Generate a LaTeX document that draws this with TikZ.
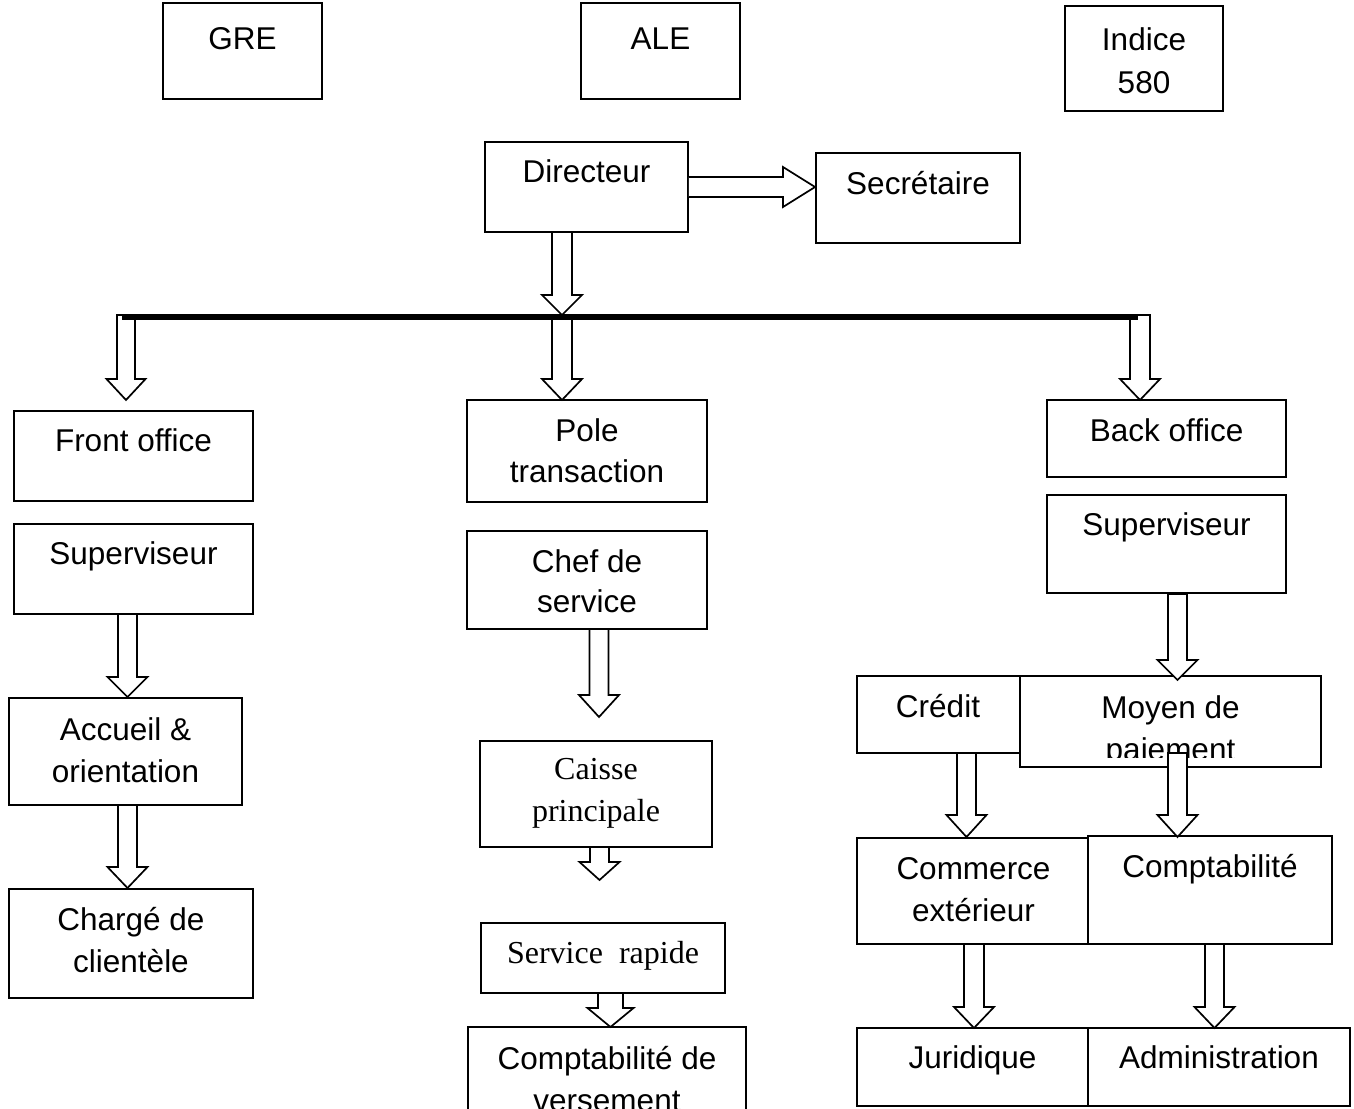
\documentclass[tikz,border=0pt]{standalone}
\usepackage{fontspec}
\setmainfont{Liberation Sans}
\newfontfamily\serifA{Liberation Serif}
\tikzset{
  bx/.style={draw, line width=1.9pt, fill=white, inner sep=0pt},
  lbl/.style={anchor=base, inner sep=0pt},
  slbl/.style={anchor=base, inner sep=0pt, font=\serifA\fontsize{32}{42}\selectfont},
  arr/.style={draw, line width=1.7pt, fill=white, line join=miter},
  bus/.style={line width=6pt}
}
\newcommand\mybox[5]{\node[bx, minimum width={#4-#2}, minimum height={#5-#3}] (#1) at ({(#2+#4)/2},{(#3+#5)/2}) {};}
% cx, ytop, yhead, ytip, shaft half, head half
\newcommand\DArr[6]{\draw[arr] ({#1-#5},#2) -- ({#1-#5},#3) -- ({#1-#6},#3) -- (#1,#4) -- ({#1+#6},#3) -- ({#1+#5},#3) -- ({#1+#5},#2) -- cycle;}
\begin{document}
\begin{tikzpicture}[x=1pt,y=-1pt,font=\fontsize{31.5}{42}\selectfont]
\useasboundingbox (0,0) rectangle (1354,1108);
\clip (0,0) rectangle (1354,1108);
\fill[white] (0,0) rectangle (1354,1108);

% top row
\mybox{gre}{163}{3}{322}{99}
\mybox{ale}{581}{3}{740}{99}
\mybox{ind}{1065}{6}{1223}{111}
\node[lbl] (tgre) at (242.5,50) {GRE};
\node[lbl] (tale) at (660.5,50) {ALE};
\node[lbl] (tind1) at (1144,51) {Indice};
\node[lbl] (tind2) at (1144,93) {580};

% director level
\mybox{dir}{485}{142}{688}{232}
\mybox{sec}{816}{153}{1020}{243}
\node[lbl] (tdir) at (586.5,182) {Directeur};
\node[lbl] (tsec) at (918,194) {Secrétaire};

% left column
\mybox{front}{14}{411}{253}{501}
\mybox{supl}{14}{524}{253}{614}
\mybox{acc}{9}{698}{242}{805}
\mybox{charge}{9}{889}{253}{998}
\node[lbl] (tfront) at (133.5,451) {Front office};
\node[lbl] (tsupl) at (133.5,564) {Superviseur};
\node[lbl] (tacc1) at (125.5,740) {Accueil \&};
\node[lbl] (tacc2) at (125.5,782) {orientation};
\node[lbl] (tch1) at (131,930) {Chargé de};
\node[lbl] (tch2) at (131,972) {clientèle};

% middle column
\mybox{pole}{467}{400}{707}{502}
\mybox{chef}{467}{531}{707}{629}
\mybox{caisse}{480}{741}{712}{847}
\mybox{serv}{481}{923}{725}{993}
\mybox{compv}{468}{1027}{746}{1140}
\node[lbl] (tpole1) at (587,441) {Pole};
\node[lbl] (tpole2) at (587,482) {transaction};
\node[lbl] (tchef1) at (587,572) {Chef de};
\node[lbl] (tchef2) at (587,612) {service};
\node[slbl] (tcai1) at (596,779) {Caisse};
\node[slbl] (tcai2) at (596,821) {principale};
\node[slbl] (tserv) at (603,963) {Service~ rapide};
\node[lbl] (tcv1) at (607,1069) {Comptabilité de};
\node[lbl] (tcv2) at (607,1111) {versement};

% right column
\mybox{back}{1047}{400}{1286}{477}
\mybox{supr}{1047}{495}{1286}{593}
\mybox{cred}{857}{676}{1020}{753}
\mybox{moy}{1020}{676}{1321}{767}
\mybox{comm}{857}{838}{1090}{944}
\mybox{compta}{1088}{836}{1332}{944}
\mybox{jur}{857}{1028}{1088}{1106}
\mybox{adm}{1088}{1028}{1350}{1106}
\node[lbl] (tback) at (1166.5,441) {Back office};
\node[lbl] (tsupr) at (1166.5,535) {Superviseur};
\node[lbl] (tcred) at (938,717) {Crédit};
\node[lbl] (tmoy1) at (1170.5,718) {Moyen de};
\begin{scope}
  \clip (1022,720) rectangle (1319,757);
  \node[lbl] (tmoy2) at (1170.5,760) {paiement};
\end{scope}
\node[lbl] (tcomm1) at (973.5,879) {Commerce};
\node[lbl] (tcomm2) at (973.5,921) {extérieur};
\node[lbl] (tcompta) at (1210,877) {Comptabilité};
\node[lbl] (tjur) at (972.5,1068) {Juridique};
\node[lbl] (tadm) at (1219,1068) {Administration};

% block arrows
\draw[arr] (dir.east |- 0,177) -- (783,177) -- (783,167) -- (sec.west |- 0,187) -- (783,207) -- (783,197) -- (dir.east |- 0,197);
\DArr{562}{232}{295}{315}{10}{20}
\DArr{126}{315}{379}{400}{9}{19.5}
\DArr{562}{316}{379}{400}{10}{20}
\DArr{1140}{315}{379}{400}{10}{20}
\DArr{127.5}{614}{677}{697}{9.5}{20}
\DArr{127.5}{805}{867}{888}{9.5}{20}
\DArr{599}{629}{695}{717}{9.5}{20}
\DArr{599.5}{847}{862}{880}{9.5}{20}
\DArr{610.5}{993}{1008}{1027}{12.5}{23}
\DArr{1177.5}{594}{660}{680}{9.5}{20}
\DArr{966.5}{753}{815}{837}{9.5}{20}
\DArr{1177.5}{753}{815}{837}{9.5}{20}
\DArr{974}{944}{1007}{1028}{10}{20}
\DArr{1214.5}{944}{1007}{1028}{9.5}{20}

% bus line
\coordinate (busL) at (122,317);
\coordinate (busR) at (1138,317);
\draw[bus] (busL) -- (busR);
\end{tikzpicture}
\end{document}
